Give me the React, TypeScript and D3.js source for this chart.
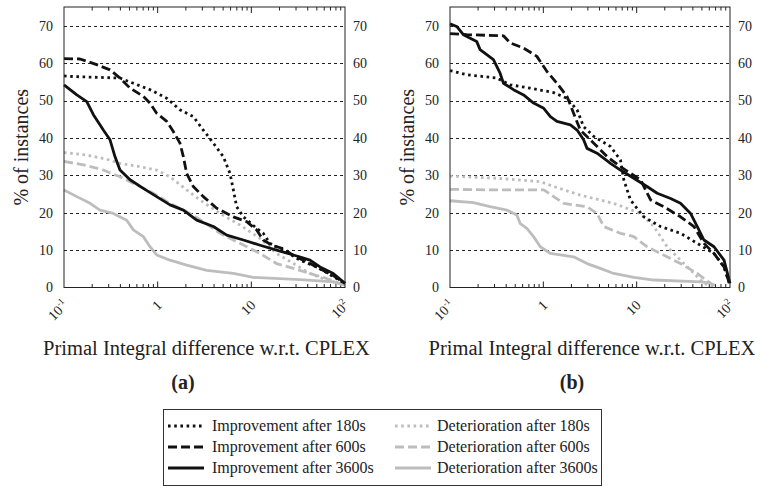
import React from "react";
import * as d3 from "d3";

type Pt = [number, number];

// Axis ticks
const X_TICKS = [0.1, 1, 10, 100];
const X_TICK_BASE = ["10", "1", "10", "10"];
const X_TICK_EXP = ["-1", "", "", "2"];
const Y_TICKS = [0, 10, 20, 30, 40, 50, 60, 70];
const Y_GRID = [10, 20, 30, 40, 50, 60, 70];

const X_LABEL = "Primal Integral difference w.r.t. CPLEX";
const Y_LABEL = "% of instances";
const CAPTIONS = ["(a)", "(b)"];

const SERIES_LABELS = [
  "Improvement after 180s",
  "Improvement after 600s",
  "Improvement after 3600s",
  "Deterioration after 180s",
  "Deterioration after 600s",
  "Deterioration after 3600s",
];

// Panel (a): % of instances whose difference exceeds x
const aImp180: Pt[] = [[0.1,56.6],[0.126,56.4],[0.396,56.0],[0.55,54.6],[0.828,52.9],[1.25,50.6],[1.73,47.5],[2.4,45.7],[3.07,42.1],[3.93,38.6],[5.02,35.0],[5.92,30.5],[6.43,26.1],[6.97,21.6],[8.22,18.9],[11.4,15.8],[13.4,14.5],[15.8,11.8],[22.0,10.0],[33.1,7.3],[49.9,5.5],[75.0,2.9],[100,1.1]];
const aImp600: Pt[] = [[0.1,61.2],[0.148,61.1],[0.223,59.6],[0.31,58.2],[0.396,56.0],[0.507,53.3],[0.703,51.1],[0.828,49.3],[0.975,46.6],[1.25,44.4],[1.47,41.7],[1.73,38.6],[1.88,35.0],[2.04,30.5],[2.4,27.0],[3.07,24.3],[4.27,21.2],[6.43,18.9],[8.91,17.6],[11.4,15.4],[13.4,12.7],[17.2,11.1],[22.0,10.4],[28.1,8.5],[39.0,6.9],[54.1,5.0],[75.0,3.2],[100,1.1]];
const aImp3600: Pt[] = [[0.1,54.2],[0.137,51.5],[0.175,49.7],[0.206,46.2],[0.263,42.1],[0.31,39.5],[0.35,35.0],[0.396,31.4],[0.507,28.8],[0.703,26.5],[0.975,24.3],[1.355,22.1],[1.88,20.7],[2.61,18.0],[3.93,16.3],[5.46,14.0],[8.22,12.7],[12.4,11.3],[18.6,10.0],[28.1,8.7],[42.3,7.3],[54.1,5.5],[75.0,3.75],[100,1.1]];
const aDet180: Pt[] = [[0.1,36.1],[0.175,35.4],[0.286,34.3],[0.396,33.2],[0.648,32.3],[0.975,31.4],[1.355,29.6],[2.04,26.1],[2.83,23.4],[4.63,19.8],[7.57,16.7],[12.4,13.1],[18.6,9.1],[28.1,6.4],[42.3,3.75],[63.7,2.0],[100,0.6]];
const aDet600: Pt[] = [[0.1,33.7],[0.161,32.8],[0.263,31.4],[0.396,29.6],[0.597,27.4],[0.899,25.2],[1.355,22.5],[2.04,20.3],[3.07,17.6],[4.63,14.5],[7.57,11.8],[12.4,9.1],[18.6,6.4],[28.1,5.1],[42.3,3.75],[63.7,2.4],[100,0.6]];
const aDet3600: Pt[] = [[0.1,26.1],[0.137,24.3],[0.19,22.5],[0.242,20.7],[0.336,19.8],[0.467,18.0],[0.55,15.4],[0.703,13.6],[0.828,10.9],[0.975,8.7],[1.355,7.3],[2.04,6.0],[3.34,4.6],[6.43,3.75],[10.5,2.7],[33.1,2.1],[75.0,1.5],[100,0.6]];

// Panel (b)
const bImp180: Pt[] = [[0.1,58.0],[0.151,56.9],[0.317,56.0],[0.441,54.2],[0.723,53.3],[1.29,52.1],[1.79,50.6],[2.3,47.5],[2.7,43.0],[3.47,40.4],[5.24,37.7],[6.7,34.1],[7.28,28.8],[8.58,23.4],[11.9,18.9],[18.0,16.3],[29.5,14.5],[44.6,11.8],[67.4,9.1],[86.3,5.5],[100,0.6]];
const bImp600: Pt[] = [[0.1,67.9],[0.151,67.6],[0.374,67.3],[0.441,65.4],[0.614,64.0],[0.853,61.8],[1.09,57.8],[1.4,54.6],[1.79,51.1],[2.11,46.6],[2.49,42.1],[3.47,38.6],[4.82,35.0],[6.7,32.3],[11.0,28.8],[14.1,23.4],[19.5,21.6],[29.5,18.9],[41.1,16.3],[52.6,11.8],[67.4,9.1],[86.3,5.5],[100,0.6]];
const bImp3600: Pt[] = [[0.1,70.5],[0.118,69.8],[0.139,67.6],[0.193,65.8],[0.21,63.6],[0.292,60.9],[0.344,57.3],[0.374,54.6],[0.479,52.9],[0.614,51.5],[0.786,49.3],[1.01,47.9],[1.19,45.7],[1.4,44.4],[1.95,43.5],[2.3,42.1],[2.7,39.5],[2.94,37.2],[3.76,35.9],[5.24,33.2],[6.7,31.4],[9.31,29.2],[12.9,27.0],[16.6,25.2],[23.1,23.8],[29.5,22.5],[37.8,19.8],[44.6,16.3],[52.6,12.7],[67.4,10.9],[86.3,7.3],[100,1.1]];
const bDet180: Pt[] = [[0.1,29.8],[0.317,29.2],[0.927,28.3],[1.29,27.0],[2.49,24.7],[5.68,22.5],[11.0,19.8],[15.3,16.3],[21.2,10.9],[29.5,7.3],[41.1,3.75],[52.6,1.1],[67.4,0.2]];
const bDet600: Pt[] = [[0.1,26.25],[0.292,26.1],[1.01,26.1],[1.29,24.3],[1.65,22.5],[2.94,21.6],[3.76,19.8],[4.44,16.3],[6.7,14.5],[9.31,13.6],[12.9,10.9],[18.0,9.1],[29.5,6.4],[44.6,3.75],[62.1,1.1],[73.1,0.2]];
const bDet3600: Pt[] = [[0.1,23.2],[0.178,22.7],[0.269,21.6],[0.406,20.7],[0.52,19.4],[0.565,17.1],[0.666,15.8],[0.786,13.6],[0.927,10.9],[1.19,9.1],[2.11,8.2],[2.94,6.4],[4.08,5.1],[5.68,3.75],[9.31,2.7],[15.3,2.0],[48.4,1.5],[62.1,1.25]];

// Line styles, in the order of SERIES_LABELS
const BLACK = "#111";
const GRAY = "#bdbdbd";
const STYLES = [
  { color: BLACK, dash: "2.6 3.6" },
  { color: BLACK, dash: "9 4" },
  { color: BLACK, dash: "" },
  { color: GRAY, dash: "2.6 3.6" },
  { color: GRAY, dash: "9 4" },
  { color: GRAY, dash: "" },
];

const FONT = "'Liberation Serif', 'Times New Roman', serif";
const W = 761;
const H = 486;

type PanelProps = {
  x0: number;
  x1: number;
  series: Pt[][];
  caption: string;
  captionX: number;
};

function Panel({ x0, x1, series, caption, captionX }: PanelProps) {
  const top = 7;
  const bottom = 287.5;
  const x = d3.scaleLog().domain([0.1, 100]).range([x0, x1]);
  const y = d3.scaleLinear().domain([0, 75]).range([bottom, top]);
  const line = d3
    .line<Pt>()
    .x((d) => x(d[0]))
    .y((d) => y(d[1]));

  const minor: number[] = [];
  [0.1, 1, 10].forEach((d) => {
    for (let k = 2; k <= 9; k++) minor.push(d * k);
  });

  // draw light series first so the black ones sit on top
  const order = [3, 4, 5, 0, 1, 2];
  const cx = (x0 + x1) / 2;

  return (
    <g>
      {Y_GRID.map((v) => (
        <line
          key={"g" + v}
          x1={x0}
          x2={x1}
          y1={Math.round(y(v)) + 0.5}
          y2={Math.round(y(v)) + 0.5}
          stroke="#222"
          strokeWidth={1}
          strokeDasharray="3 3"
        />
      ))}
      {minor.map((v) => (
        <g key={"m" + v}>
          <line x1={x(v)} x2={x(v)} y1={bottom} y2={bottom - 3.5} stroke="#222" strokeWidth={1} />
          <line x1={x(v)} x2={x(v)} y1={top} y2={top + 3.5} stroke="#222" strokeWidth={1} />
        </g>
      ))}
      {[1, 10].map((v) => (
        <g key={"M" + v}>
          <line x1={x(v)} x2={x(v)} y1={bottom} y2={bottom - 6} stroke="#222" strokeWidth={1} />
          <line x1={x(v)} x2={x(v)} y1={top} y2={top + 6} stroke="#222" strokeWidth={1} />
        </g>
      ))}
      {order.map((i) => (
        <path
          key={"s" + i}
          d={line(series[i]) || ""}
          fill="none"
          stroke={STYLES[i].color}
          strokeWidth={2.8}
          strokeDasharray={STYLES[i].dash || undefined}
          strokeLinejoin="round"
        />
      ))}
      <rect x={x0} y={top} width={x1 - x0} height={bottom - top} fill="none" stroke="#222" strokeWidth={1} />
      {Y_TICKS.map((v) => (
        <g key={"y" + v} fontFamily={FONT} fontSize={14} fill="#222">
          <text x={x0 - 11} y={y(v)} dy="0.35em" textAnchor="end">{v}</text>
          <text x={x1 + 8} y={y(v)} dy="0.35em" textAnchor="start">{v}</text>
        </g>
      ))}
      {X_TICKS.map((v, i) => (
        <text
          key={"x" + v}
          transform={`translate(${x(v) + 5},${306}) rotate(-45)`}
          textAnchor="end"
          fontFamily={FONT}
          fontSize={14}
          fill="#222"
        >
          {X_TICK_BASE[i]}
          {X_TICK_EXP[i] && (
            <tspan fontSize={9} dy={-6}>{X_TICK_EXP[i]}</tspan>
          )}
        </text>
      ))}
      <text
        transform={`translate(${x0 - 36},${(top + bottom) / 2}) rotate(-90)`}
        textAnchor="middle"
        fontFamily={FONT}
        fontSize={20}
        fill="#222"
      >
        {Y_LABEL}
      </text>
      <text x={cx + 2} y={355} textAnchor="middle" fontFamily={FONT} fontSize={20.5} fill="#222">
        {X_LABEL}
      </text>
      <text x={captionX} y={389} textAnchor="middle" fontFamily={FONT} fontSize={20} fontWeight="bold" fill="#222">
        {caption}
      </text>
    </g>
  );
}

function Legend() {
  const left = 163;
  const right = 601;
  const top = 409;
  const bottom = 485;
  const rows = [426, 447, 468];
  const cols = [
    { lx: 168, tx: 212 },
    { lx: 395, tx: 437 },
  ];
  return (
    <g>
      <rect x={left + 0.5} y={top + 0.5} width={right - left} height={bottom - top} fill="none" stroke="#333" strokeWidth={1} />
      {SERIES_LABELS.map((label, i) => {
        const c = cols[Math.floor(i / 3)];
        const ry = rows[i % 3];
        return (
          <g key={label}>
            <line
              x1={c.lx}
              x2={c.lx + 36}
              y1={ry}
              y2={ry}
              stroke={STYLES[i].color}
              strokeWidth={2.8}
              strokeDasharray={STYLES[i].dash || undefined}
            />
            <text x={c.tx} y={ry} dy="0.33em" fontFamily={FONT} fontSize={16} fill="#222">
              {label}
            </text>
          </g>
        );
      })}
    </g>
  );
}

export default function App() {
  return (
    <svg
      width={W}
      height={H}
      viewBox={`0 0 ${W} ${H}`}
      style={{ position: "absolute", left: 0, top: 0, background: "#fff" }}
    >
      <rect width={W} height={H} fill="#fff" />
      <Panel
        x0={64}
        x1={345}
        series={[aImp180, aImp600, aImp3600, aDet180, aDet600, aDet3600]}
        caption={CAPTIONS[0]}
        captionX={183}
      />
      <Panel
        x0={450}
        x1={730}
        series={[bImp180, bImp600, bImp3600, bDet180, bDet600, bDet3600]}
        caption={CAPTIONS[1]}
        captionX={572}
      />
      <Legend />
    </svg>
  );
}
